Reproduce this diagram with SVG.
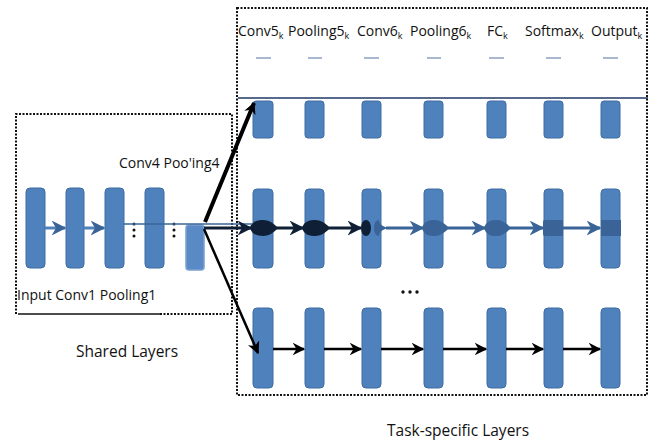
<svg xmlns="http://www.w3.org/2000/svg" width="667" height="443" viewBox="0 0 667 443">
<style>
.l{fill:#4f81bd;stroke:#3d6ca3;stroke-width:1}
.t{font-family:"Open Sans","Liberation Sans",sans-serif;font-size:14px;fill:#111}
.big{font-family:"Open Sans","Liberation Sans",sans-serif;font-size:15.5px;fill:#111}
.dot{fill:none;stroke:#111;stroke-width:2;stroke-dasharray:2 1.5}
.blk{stroke:#000;fill:none}
.nav{stroke:#0f1f35;stroke-width:3;fill:none}
.blu{stroke:#3a6497;stroke-width:3;fill:none}
.dash{stroke:#8aa0c0;stroke-width:1.5}
</style>
<defs>
<marker id="hb" viewBox="0 0 10 10" refX="9" refY="5" markerWidth="5" markerHeight="5" orient="auto" markerUnits="strokeWidth"><path d="M0,0 L10,5 L0,10 L3,5 z" fill="#000"/></marker>
<marker id="hn" viewBox="0 0 10 10" refX="9" refY="5" markerWidth="5" markerHeight="5" orient="auto" markerUnits="strokeWidth"><path d="M0,0 L10,5 L0,10 L3,5 z" fill="#0f1f35"/></marker>
<marker id="hl" viewBox="0 0 10 10" refX="9" refY="5" markerWidth="5" markerHeight="5" orient="auto" markerUnits="strokeWidth"><path d="M0,0 L10,5 L0,10 L3,5 z" fill="#3a6497"/></marker>
<marker id="ht" viewBox="0 0 10 10" refX="9" refY="5" markerWidth="3" markerHeight="3" orient="auto" markerUnits="strokeWidth"><path d="M0,0 L10,5 L0,10 L3,5 z" fill="#000"/></marker>
</defs>

<!-- frames -->
<g id="shared-box">
<path class="dot" d="M160,314 L232,314 L232,114 L16,114 L16,314"/>
<path d="M18,314 L160,314" stroke="#111" stroke-width="1.5"/>
</g>
<g id="task-box">
<rect class="dot" x="237" y="8" width="410" height="387"/>
<line x1="238" y1="98" x2="648" y2="98" stroke="#1f3864" stroke-width="1.5"/>
</g>

<!-- shared layers -->
<g id="shared-layers">
<rect class="l" x="26" y="188" width="19" height="80" rx="4"/>
<rect class="l" x="66" y="188" width="18" height="80" rx="4"/>
<rect class="l" x="105" y="188" width="19" height="80" rx="4"/>
<rect class="l" x="145" y="188" width="19" height="80" rx="4"/>
<rect x="186" y="225" width="18" height="45" rx="3" fill="#5a8ac6" stroke="#7aa0cf" stroke-width="1.5"/>
<g fill="#111">
<circle cx="134" cy="224" r="1.5"/><circle cx="134" cy="230" r="1.5"/><circle cx="134" cy="236" r="1.5"/>
<circle cx="174" cy="224" r="1.5"/><circle cx="174" cy="230" r="1.5"/><circle cx="174" cy="236" r="1.5"/>
</g>
</g>

<!-- task-specific layers -->
<g id="task-layers">
<g id="row1">
<rect class="l" x="253" y="101" width="20" height="37" rx="3"/>
<rect class="l" x="305" y="101" width="19" height="37" rx="3"/>
<rect class="l" x="362" y="101" width="19" height="37" rx="3"/>
<rect class="l" x="424" y="101" width="19" height="37" rx="3"/>
<rect class="l" x="487" y="101" width="19" height="37" rx="3"/>
<rect class="l" x="544" y="101" width="19" height="37" rx="3"/>
<rect class="l" x="601" y="101" width="19" height="37" rx="3"/>
</g>
<g id="row2">
<rect class="l" x="253" y="189" width="20" height="79" rx="4"/>
<rect class="l" x="305" y="189" width="19" height="79" rx="4"/>
<rect class="l" x="362" y="189" width="19" height="79" rx="4"/>
<rect class="l" x="424" y="189" width="19" height="79" rx="4"/>
<rect class="l" x="487" y="189" width="19" height="79" rx="4"/>
<rect class="l" x="544" y="189" width="19" height="79" rx="4"/>
<rect class="l" x="601" y="189" width="19" height="79" rx="4"/>
</g>
<g id="row3">
<rect class="l" x="253" y="308" width="20" height="80" rx="4"/>
<rect class="l" x="305" y="308" width="19" height="80" rx="4"/>
<rect class="l" x="362" y="308" width="19" height="80" rx="4"/>
<rect class="l" x="424" y="308" width="19" height="80" rx="4"/>
<rect class="l" x="487" y="308" width="19" height="80" rx="4"/>
<rect class="l" x="544" y="308" width="19" height="80" rx="4"/>
<rect class="l" x="601" y="308" width="19" height="80" rx="4"/>
</g>
<g id="dashes">
<line class="dash" x1="256" y1="58" x2="271" y2="58"/>
<line class="dash" x1="308" y1="58" x2="322" y2="58"/>
<line class="dash" x1="364" y1="58" x2="379" y2="58"/>
<line class="dash" x1="427" y1="58" x2="441" y2="58"/>
<line class="dash" x1="489" y1="58" x2="504" y2="58"/>
<line class="dash" x1="546" y1="58" x2="561" y2="58"/>
<line class="dash" x1="603" y1="58" x2="618" y2="58"/>
</g>
<g id="ellipsis" fill="#111">
<circle cx="403" cy="292" r="1.7"/><circle cx="410" cy="292" r="1.7"/><circle cx="417" cy="292" r="1.7"/>
</g>
<g id="row2-nodes">
<path d="M250,228 C252,221 258,220 263,220 C270,220 274,224 278,228 C274,232 270,236 263,236 C258,236 252,235 250,228 Z" fill="#0f1f35"/>
<path d="M302,228 C304,221 310,220 315,220 C322,220 326,224 330,228 C326,232 322,236 315,236 C310,236 304,235 302,228 Z" fill="#0f1f35"/>
<ellipse cx="366" cy="228" rx="5" ry="8" fill="#0f1f35"/>
<path d="M374,228 C374,222 377,220 379,220 C379,224 382,226 388,228 C382,230 379,232 379,236 C377,236 374,234 374,228 Z" fill="#3a6497"/>
<path d="M422,228 C424,221 429,220 434,220 C441,220 445,224 449,228 C445,232 441,236 434,236 C429,236 424,235 422,228 Z" fill="#3a6497"/>
<path d="M484,228 C486,221 491,220 496,220 C503,220 507,224 511,228 C507,232 503,236 496,236 C491,236 486,235 484,228 Z" fill="#3a6497"/>
<rect x="543" y="220" width="20" height="16" rx="2" fill="#3a6497"/>
<rect x="601" y="220" width="20" height="16" fill="#3a6497"/>
</g>
</g>

<!-- connectors -->
<g id="connectors">
<line x1="45" y1="228" x2="65" y2="228" stroke="#4f81bd" stroke-width="3" marker-end="url(#hl)"/>
<line x1="84" y1="228" x2="104" y2="228" stroke="#4f81bd" stroke-width="3" marker-end="url(#hl)"/>
<line x1="124" y1="224" x2="252" y2="224" stroke="#3a6497" stroke-width="1.5"/>
<line class="blk" x1="205" y1="222" x2="254" y2="103" stroke-width="4" marker-end="url(#ht)"/>
<line class="blk" x1="204" y1="229" x2="258" y2="353" stroke-width="2.5" marker-end="url(#hb)"/>
<line class="nav" x1="204" y1="228" x2="251" y2="228" marker-end="url(#hn)"/>
<line class="nav" x1="276" y1="228" x2="303" y2="228" marker-end="url(#hn)"/>
<line class="nav" x1="328" y1="228" x2="361" y2="228" marker-end="url(#hn)"/>
<line class="blu" x1="386" y1="228" x2="423" y2="228" marker-end="url(#hl)"/>
<line class="blu" x1="447" y1="228" x2="485" y2="228" marker-end="url(#hl)"/>
<line class="blu" x1="509" y1="228" x2="543" y2="228" marker-end="url(#hl)"/>
<line class="blu" x1="563" y1="228" x2="600" y2="228" marker-end="url(#hl)"/>
<line class="blk" x1="273" y1="349" x2="304" y2="349" stroke-width="2.5" marker-end="url(#hb)"/>
<line class="blk" x1="324" y1="349" x2="361" y2="349" stroke-width="2.5" marker-end="url(#hb)"/>
<line class="blk" x1="381" y1="349" x2="423" y2="349" stroke-width="2.5" marker-end="url(#hb)"/>
<line class="blk" x1="443" y1="349" x2="486" y2="349" stroke-width="2.5" marker-end="url(#hb)"/>
<line class="blk" x1="506" y1="349" x2="543" y2="349" stroke-width="2.5" marker-end="url(#hb)"/>
<line class="blk" x1="563" y1="349" x2="600" y2="349" stroke-width="2.5" marker-end="url(#hb)"/>
</g>

<!-- labels -->
<g id="labels">
<text class="t" x="119" y="168" font-size="14.5">Conv4  Poo'ing4</text>
<text class="t" x="17" y="300">Input  Conv1 Pooling1</text>
<text class="big" x="76" y="357">Shared  Layers</text>
<text class="big" x="387" y="436">Task-specific Layers</text>
<text class="t" x="238" y="36">Conv5<tspan font-size="9" dy="3">k</tspan></text>
<text class="t" x="288" y="36">Pooling5<tspan font-size="9" dy="3">k</tspan></text>
<text class="t" x="357" y="36">Conv6<tspan font-size="9" dy="3">k</tspan></text>
<text class="t" x="410" y="36">Pooling6<tspan font-size="9" dy="3">k</tspan></text>
<text class="t" x="487" y="36">FC<tspan font-size="9" dy="3">k</tspan></text>
<text class="t" x="525" y="36">Softmax<tspan font-size="9" dy="3">k</tspan></text>
<text class="t" x="591" y="36">Output<tspan font-size="9" dy="3">k</tspan></text>
</g>
</svg>
